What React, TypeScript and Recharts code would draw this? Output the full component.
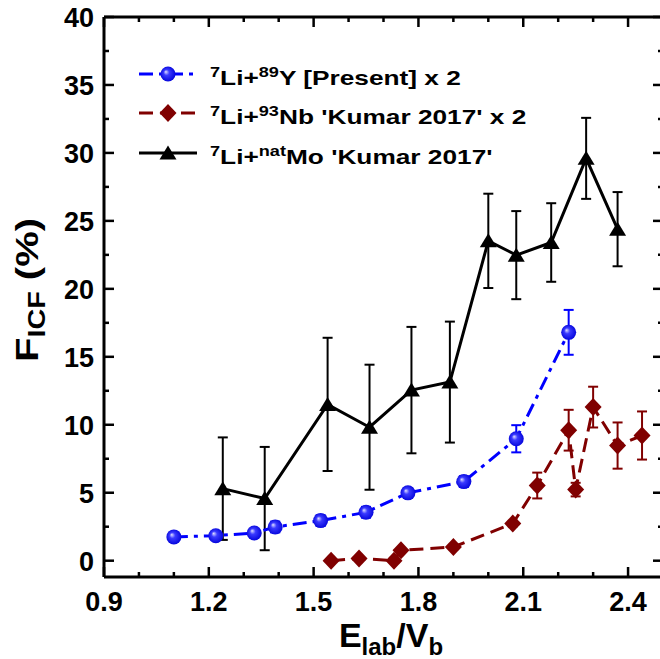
import React from "react";
import { ScatterChart, Scatter, XAxis, YAxis, ErrorBar, Legend } from "recharts";

// 7Li + 89Y (present work, x2)
const yX = [1.10, 1.22, 1.33, 1.39, 1.52, 1.65, 1.77, 1.93, 2.08, 2.23];
const yF = [1.75, 1.84, 2.04, 2.48, 2.95, 3.56, 4.99, 5.82, 8.97, 16.8];
const yErr = [0.1, 0.1, 0.15, 0.4, 0.4, 0.4, 0.35, 0.4, 1.0, 1.65];

// 7Li + 93Nb (Kumar 2017, x2)
const nbX = [1.55, 1.63, 1.73, 1.75, 1.90, 2.07, 2.14, 2.23, 2.25, 2.30, 2.37, 2.44];
const nbF = [0.0, 0.17, 0.0, 0.76, 1.01, 2.73, 5.53, 9.6, 5.23, 11.3, 8.47, 9.21];
const nbErr = [0.1, 0.1, 0.1, 0.15, 0.15, 0.2, 0.95, 1.5, 0.5, 1.5, 1.7, 1.77];

// 7Li + natMo (Kumar 2017)
const moX = [1.24, 1.36, 1.54, 1.66, 1.78, 1.89, 2.0, 2.08, 2.18, 2.28, 2.37];
const moF = [5.3, 4.57, 11.5, 9.82, 12.55, 13.14, 23.53, 22.48, 23.41, 29.6, 24.39];
const moErr = [3.77, 3.8, 4.9, 4.6, 4.65, 4.45, 3.47, 3.24, 2.89, 2.98, 2.73];

const xTicks = [0.9, 1.0, 1.1, 1.2, 1.3, 1.4, 1.5, 1.6, 1.7, 1.8, 1.9, 2.0, 2.1, 2.2, 2.3, 2.4, 2.5];
const xMajor = ["0.9", "1.2", "1.5", "1.8", "2.1", "2.4"];
const yTicks = [0, 2.5, 5, 7.5, 10, 12.5, 15, 17.5, 20, 22.5, 25, 27.5, 30, 32.5, 35, 37.5, 40];
const yMajor = ["0", "5", "10", "15", "20", "25", "30", "35", "40"];

const legendMass = ["89", "93", "nat"];
const legendTarget = ["Y [Present] x 2", "Nb 'Kumar 2017' x 2", "Mo 'Kumar 2017'"];

const font = "'Liberation Sans', Arial, Helvetica, sans-serif";
const BLUE = "#0000ff";
const RED = "#800000";
const BLACK = "#000000";

const pts = (xs: number[], ys: number[], es: number[]) =>
  xs.map((x, i) => ({ x, y: ys[i], e: es[i] }));

const yData = pts(yX, yF, yErr);
const nbData = pts(nbX, nbF, nbErr);
const moData = pts(moX, moF, moErr);

function Ball(props: any) {
  const { cx, cy } = props;
  return <circle cx={cx} cy={cy} r={7.5} fill="url(#ballGrad)" />;
}

function Diamond(props: any) {
  const { cx, cy } = props;
  return (
    <polygon
      points={`${cx},${cy - 9} ${cx + 8.5},${cy} ${cx},${cy + 9} ${cx - 8.5},${cy}`}
      fill={RED}
    />
  );
}

function Tri(props: any) {
  const { cx, cy } = props;
  return (
    <polygon
      points={`${cx},${cy - 7.5} ${cx + 8.5},${cy + 6.5} ${cx - 8.5},${cy + 6.5}`}
      fill={BLACK}
    />
  );
}

const isMajor = (v: number, list: string[], digits: number) =>
  list.includes(digits ? v.toFixed(digits) : String(v));

function BottomTick(props: any) {
  const { x, y, payload } = props;
  const major = isMajor(payload.value, xMajor, 1);
  return (
    <g>
      <line x1={x} y1={y} x2={x} y2={y - (major ? 10 : 5)} stroke={BLACK} strokeWidth={2.5} />
      {major && (
        <text x={x} y={y + 34} textAnchor="middle" fontSize={27} fontWeight="bold" fontFamily={font} fill={BLACK}>
          {payload.value.toFixed(1)}
        </text>
      )}
    </g>
  );
}

function TopTick(props: any) {
  const { x, y, payload } = props;
  const major = isMajor(payload.value, xMajor, 1);
  return <line x1={x} y1={y} x2={x} y2={y + (major ? 10 : 5)} stroke={BLACK} strokeWidth={2.5} />;
}

function LeftTick(props: any) {
  const { x, y, payload } = props;
  const major = isMajor(payload.value, yMajor, 0);
  return (
    <g>
      <line x1={x} y1={y} x2={x + (major ? 10 : 5)} y2={y} stroke={BLACK} strokeWidth={2.5} />
      {major && (
        <text x={x - 10} y={y + 10} textAnchor="end" fontSize={27} fontWeight="bold" fontFamily={font} fill={BLACK}>
          {payload.value}
        </text>
      )}
    </g>
  );
}

function RightTick(props: any) {
  const { x, y, payload } = props;
  const major = isMajor(payload.value, yMajor, 0);
  return <line x1={x} y1={y} x2={x - (major ? 10 : 5)} y2={y} stroke={BLACK} strokeWidth={2.5} />;
}

const rows = [
  { color: BLUE, dash: "14 6 4 6", marker: "ball" },
  { color: RED, dash: "14 7", marker: "diamond" },
  { color: BLACK, dash: undefined, marker: "tri" },
];

function LegendBox() {
  return (
    <div style={{ fontFamily: font, fontWeight: "bold", fontSize: 21, color: BLACK }}>
      {rows.map((r, i) => (
        <div key={i} style={{ display: "flex", alignItems: "center", height: 39.5 }}>
          <svg width={66} height={24} style={{ overflow: "visible", flex: "none" }}>
            <line x1={2} y1={12} x2={60} y2={12} stroke={r.color} strokeWidth={3} strokeDasharray={r.dash} />
            {r.marker === "ball" && <Ball cx={31} cy={12} />}
            {r.marker === "diamond" && <Diamond cx={31} cy={12} />}
            {r.marker === "tri" && <Tri cx={31} cy={12} />}
          </svg>
          <span
            style={{
              marginLeft: 7,
              whiteSpace: "nowrap",
              position: "relative",
              top: 3,
              display: "inline-block",
              transform: "scaleX(1.25)",
              transformOrigin: "left center",
            }}
          >
            <sup style={{ fontSize: 14.5 }}>7</sup>Li+<sup style={{ fontSize: 14.5 }}>{legendMass[i]}</sup>
            {legendTarget[i]}
          </span>
        </div>
      ))}
    </div>
  );
}

export default function App() {
  return (
    <div
      style={{
        position: "fixed",
        left: 0,
        top: 0,
        width: 660,
        height: 659,
        overflow: "hidden",
        background: "#fff",
      }}
    >
      <ScatterChart width={680} height={659} margin={{ top: 16, right: 16, bottom: 81, left: 103 }}>
        <defs>
          <radialGradient id="ballGrad" cx="50%" cy="50%" r="55%" fx="35%" fy="35%">
            <stop offset="0%" stopColor="#e0e0ff" />
            <stop offset="35%" stopColor="#3a3aff" />
            <stop offset="100%" stopColor="#0000d8" />
          </radialGradient>
        </defs>
        <XAxis
          type="number"
          dataKey="x"
          domain={[0.9, 2.5]}
          ticks={xTicks}
          interval={0}
          height={1}
          tickSize={0}
          tickMargin={0}
          tickLine={false}
          tick={BottomTick}
          axisLine={{ stroke: BLACK, strokeWidth: 3 }}
          allowDataOverflow
        />
        <XAxis
          xAxisId="top"
          orientation="top"
          type="number"
          dataKey="x"
          domain={[0.9, 2.5]}
          ticks={xTicks}
          interval={0}
          height={1}
          tickSize={0}
          tickMargin={0}
          tickLine={false}
          tick={TopTick}
          axisLine={{ stroke: BLACK, strokeWidth: 3 }}
          allowDataOverflow
        />
        <YAxis
          type="number"
          dataKey="y"
          domain={[-1.2, 40]}
          ticks={yTicks}
          interval={0}
          width={1}
          tickSize={0}
          tickMargin={0}
          tickLine={false}
          tick={LeftTick}
          axisLine={{ stroke: BLACK, strokeWidth: 3 }}
          allowDataOverflow
        />
        <YAxis
          yAxisId="right"
          orientation="right"
          type="number"
          dataKey="y"
          domain={[-1.2, 40]}
          ticks={yTicks}
          interval={0}
          width={1}
          tickSize={0}
          tickMargin={0}
          tickLine={false}
          tick={RightTick}
          axisLine={{ stroke: BLACK, strokeWidth: 3 }}
          allowDataOverflow
        />
        <Legend
          layout="horizontal"
          verticalAlign="middle"
          align="center"
          wrapperStyle={{ top: 54, left: 137, width: 420 }}
          content={() => <LegendBox />}
        />
        <Scatter
          data={moData}
          line={{ stroke: BLACK, strokeWidth: 3 }}
          lineType="joint"
          shape={Tri}
          isAnimationActive={false}
        >
          <ErrorBar dataKey="e" direction="y" width={5} stroke={BLACK} strokeWidth={2} />
        </Scatter>
        <Scatter
          data={nbData}
          line={{ stroke: RED, strokeWidth: 3, strokeDasharray: "14 7" }}
          lineType="joint"
          shape={Diamond}
          isAnimationActive={false}
        >
          <ErrorBar dataKey="e" direction="y" width={5} stroke={RED} strokeWidth={2} />
        </Scatter>
        <Scatter
          data={yData}
          line={{ stroke: BLUE, strokeWidth: 3, strokeDasharray: "14 6 4 6" }}
          lineType="joint"
          shape={Ball}
          isAnimationActive={false}
        >
          <ErrorBar dataKey="e" direction="y" width={5} stroke={BLUE} strokeWidth={2} />
        </Scatter>
      </ScatterChart>
      <div
        style={{
          position: "absolute",
          left: 391,
          top: 622,
          transform: "translateX(-50%)",
          fontFamily: font,
          fontWeight: "bold",
          fontSize: 34,
          whiteSpace: "nowrap",
          lineHeight: "26px",
        }}
      >
        E<sub style={{ fontSize: 24, lineHeight: 0 }}>lab</sub>/V<sub style={{ fontSize: 24, lineHeight: 0 }}>b</sub>
      </div>
      <div
        style={{
          position: "absolute",
          left: 30,
          top: 290,
          transform: "translate(-50%, -50%) rotate(-90deg) scaleX(1.25)",
          fontFamily: font,
          fontWeight: "bold",
          fontSize: 32,
          whiteSpace: "nowrap",
          lineHeight: 1,
        }}
      >
        F<sub style={{ fontSize: 23 }}>ICF</sub> (%)
      </div>
    </div>
  );
}
